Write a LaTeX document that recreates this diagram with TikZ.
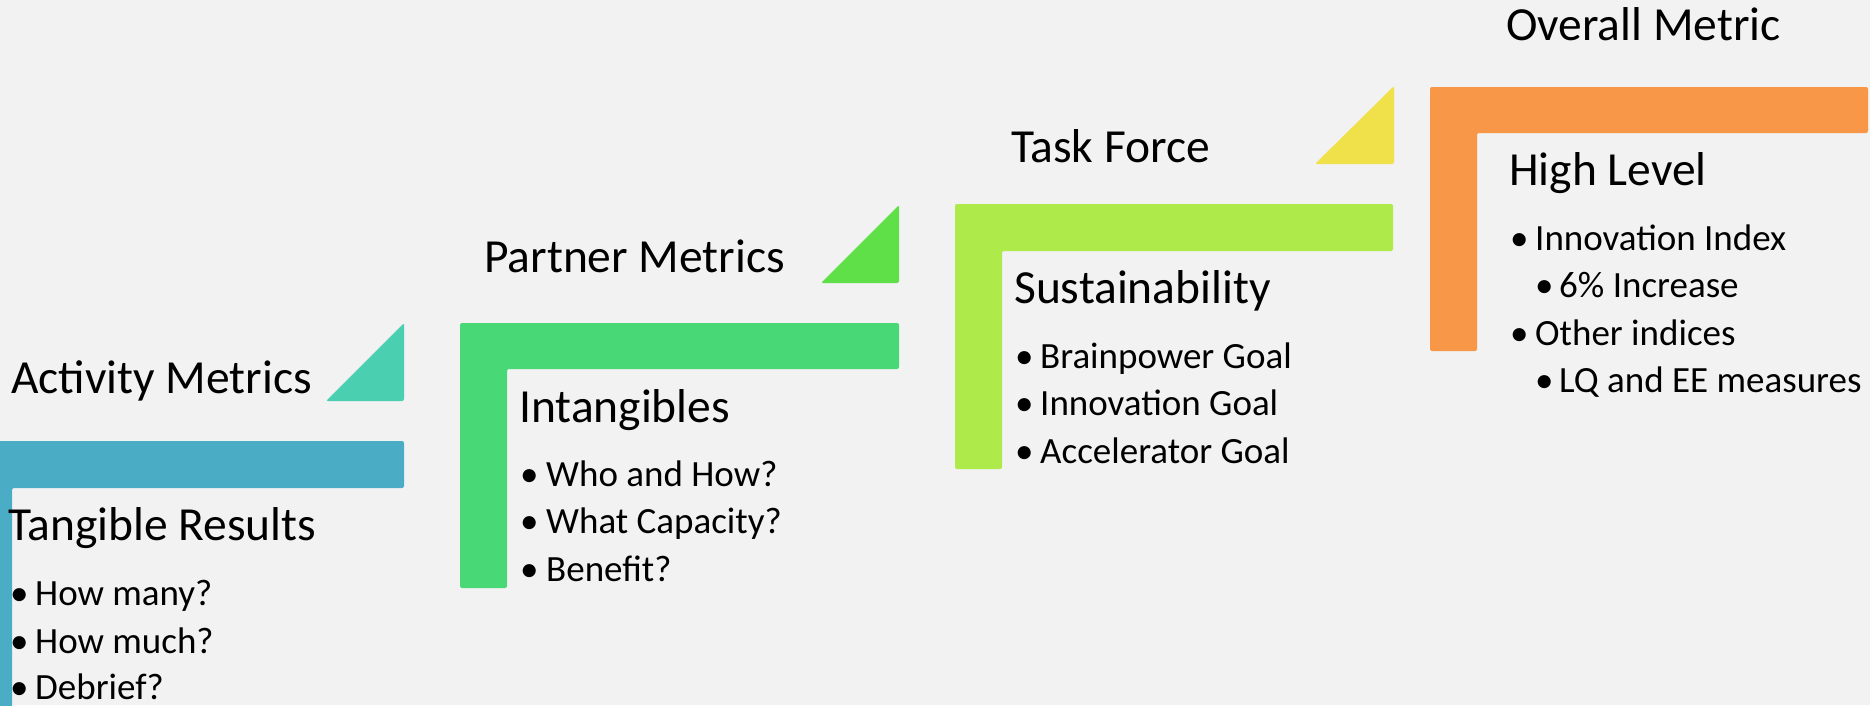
\documentclass[tikz,border=0pt]{standalone}
\usepackage{fontspec}
\setmainfont{Carlito}
\definecolor{bgc}{HTML}{F2F2F2}
\definecolor{blueL}{HTML}{4BACC6}
\definecolor{tealT}{HTML}{4ACFB0}
\definecolor{greenL}{HTML}{48D875}
\definecolor{greenT}{HTML}{60E048}
\definecolor{limeL}{HTML}{AEEA4A}
\definecolor{yellowT}{HTML}{F0E04A}
\definecolor{orangeL}{HTML}{F79747}
\tikzset{
  titletxt/.style={anchor=base west, inner sep=0pt, font=\fontsize{47.5}{56}\selectfont},
  bullettxt/.style={anchor=base west, inner sep=0pt, font=\fontsize{37}{44}\selectfont},
  shapefill/.style={rounded corners=2pt}
}
\begin{document}
\begin{tikzpicture}[x=1pt,y=-1pt]
\useasboundingbox (0,0) rectangle (1870,705);
\fill[bgc] (0,0) rectangle (1870,705);
\clip (0,0) rectangle (1870,705);
% step 1
\fill[tealT,shapefill] (326,401) -- (404,401) -- (404,323) -- cycle;
\fill[blueL,shapefill] (-35,441) -- (404,441) -- (404,488) -- (12,488) -- (12,740) -- (-35,740) -- cycle;
\node[titletxt] (s1title) at (11,393) {Activity Metrics};
\node[titletxt] (s1head) at (8,540) {Tangible Results};
\node[bullettxt] (s1d1) at (10,605) {•};
\node[bullettxt] (s1b1) at (35,605) {How many?};
\node[bullettxt] (s1d2) at (10,653) {•};
\node[bullettxt] (s1b2) at (35,653) {How much?};
\node[bullettxt] (s1d3) at (10,699) {•};
\node[bullettxt] (s1b3) at (35,699) {Debrief?};
% step 2
\fill[greenT,shapefill] (821,283) -- (899,283) -- (899,205) -- cycle;
\fill[greenL,shapefill] (460,323) -- (899,323) -- (899,369) -- (507,369) -- (507,588) -- (460,588) -- cycle;
\node[titletxt] (s2title) at (484,272) {Partner Metrics};
\node[titletxt] (s2head) at (519,422) {Intangibles};
\node[bullettxt] (s2d1) at (520,486) {•};
\node[bullettxt] (s2b1) at (546,486) {Who and How?};
\node[bullettxt] (s2d2) at (520,533) {•};
\node[bullettxt] (s2b2) at (546,533) {What Capacity?};
\node[bullettxt] (s2d3) at (520,581) {•};
\node[bullettxt] (s2b3) at (546,581) {Benefit?};
% step 3
\fill[yellowT,shapefill] (1315,164) -- (1394,164) -- (1394,86) -- cycle;
\fill[limeL,shapefill] (955,204) -- (1393,204) -- (1393,251) -- (1002,251) -- (1002,469) -- (955,469) -- cycle;
\node[titletxt] (s3title) at (1011,162) {Task Force};
\node[titletxt] (s3head) at (1014,303) {Sustainability};
\node[bullettxt] (s3d1) at (1015,368) {•};
\node[bullettxt] (s3b1) at (1040,368) {Brainpower Goal};
\node[bullettxt] (s3d2) at (1015,415) {•};
\node[bullettxt] (s3b2) at (1040,415) {Innovation Goal};
\node[bullettxt] (s3d3) at (1015,463) {•};
\node[bullettxt] (s3b3) at (1040,463) {Accelerator Goal};
% step 4
\fill[orangeL,shapefill] (1430,87) -- (1868,87) -- (1868,133) -- (1477,133) -- (1477,351) -- (1430,351) -- cycle;
\node[titletxt] (s4title) at (1506,40) {Overall Metric};
\node[titletxt] (s4head) at (1509,185) {High Level};
\node[bullettxt] (s4d1) at (1510,250) {•};
\node[bullettxt] (s4b1) at (1535,250) {Innovation Index};
\node[bullettxt] (s4d2) at (1535,297) {•};
\node[bullettxt] (s4b2) at (1559,297) {6\% Increase};
\node[bullettxt] (s4d3) at (1510,345) {•};
\node[bullettxt] (s4b3) at (1535,345) {Other indices};
\node[bullettxt] (s4d4) at (1535,392) {•};
\node[bullettxt] (s4b4) at (1559,392) {LQ and EE measures};
\end{tikzpicture}
\end{document}
